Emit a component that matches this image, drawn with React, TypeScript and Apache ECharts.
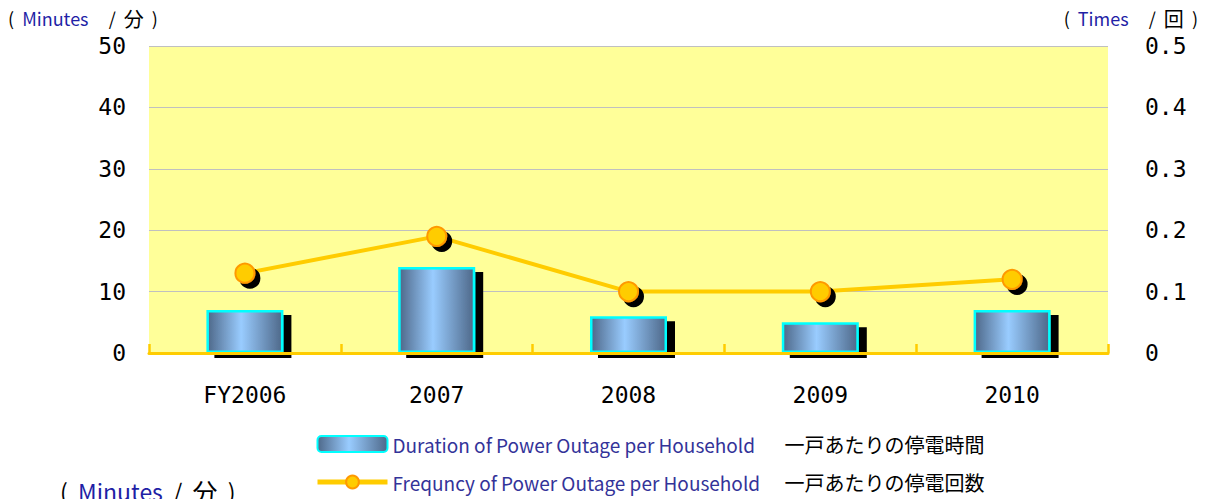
import React, { useEffect, useRef } from "react";
import * as echarts from "echarts";

const categories = ["FY2006", "2007", "2008", "2009", "2010"];
const durationMinutes = [7, 14, 6, 5, 7];
const frequencyTimes = [0.13, 0.19, 0.1, 0.1, 0.12];
const leftTicks = { min: 0, max: 50, interval: 10 };
const rightTicks = { min: 0, max: 0.5, interval: 0.1 };
const seriesNames = [
  "Duration of Power Outage per Household",
  "Frequncy of Power Outage per Household",
];
const seriesNamesJa: Record<string, string> = {
  "Duration of Power Outage per Household": "一戸あたりの停電時間",
  "Frequncy of Power Outage per Household": "一戸あたりの停電回数",
};

const FONT = "'Noto Sans CJK JP', 'Noto Sans', sans-serif";
const MONO = "'DejaVu Sans Mono', monospace";

export default function App() {
  const ref = useRef<HTMLDivElement>(null);
  useEffect(() => {
    document.body.style.margin = "0";
    const chart = echarts.init(ref.current!, null, { renderer: "svg" });
    const barGradient = new echarts.graphic.LinearGradient(0, 0, 1, 0, [
      { offset: 0, color: "#4e6889" },
      { offset: 0.45, color: "#99ccff" },
      { offset: 1, color: "#4e6889" },
    ]);
    const unitRich = (size: number) => ({
      b: { fill: "#1f1fa6", fontSize: size, fontFamily: FONT },
      c: { fill: "#000", fontSize: size + 2, fontFamily: FONT },
    });
    chart.setOption({
      animation: false,
      textStyle: { fontFamily: FONT },
      grid: {
        left: 149,
        right: 98,
        top: 46,
        bottom: 146,
        show: true,
        backgroundColor: "#ffff99",
        borderWidth: 0,
      },
      xAxis: {
        type: "category",
        data: categories,
        z: 5,
        axisLine: { lineStyle: { color: "#ffcc00", width: 3 } },
        axisTick: {
          show: true,
          interval: 0,
          inside: true,
          length: 9,
          lineStyle: { color: "#ffcc00", width: 2.5 },
        },
        axisLabel: { color: "#000", fontSize: 23, margin: 30, fontFamily: MONO },
      },
      yAxis: [
        {
          type: "value",
          ...leftTicks,
          axisLine: { show: false },
          axisTick: { show: false },
          splitLine: { lineStyle: { color: "#c0c0c0", width: 1 } },
          axisLabel: { color: "#000", fontSize: 23, margin: 23, fontFamily: MONO },
        },
        {
          type: "value",
          position: "right",
          ...rightTicks,
          axisLine: { show: false },
          axisTick: { show: false },
          splitLine: { show: false },
          axisLabel: {
            color: "#000",
            fontSize: 23,
            margin: 37,
            fontFamily: MONO,
            formatter: (v: number) => (v === 0 ? "0" : v.toFixed(1)),
          },
        },
      ],
      legend: {
        orient: "vertical",
        left: 310,
        top: 429,
        itemWidth: 70,
        itemHeight: 16,
        itemGap: 18,
        data: seriesNames,
        itemStyle: { shadowColor: "rgba(0,0,0,0)", shadowBlur: 0, shadowOffsetX: 0, shadowOffsetY: 0 },
        lineStyle: { width: 5, color: "#ffcc00", shadowColor: "rgba(0,0,0,0)" },
        formatter: (name: string) => `{en|${name}}{ja|${seriesNamesJa[name]}}`,
        textStyle: {
          rich: {
            en: { color: "#333399", fontSize: 19, width: 392, fontFamily: FONT, lineHeight: 28 },
            ja: { color: "#000", fontSize: 20, fontFamily: FONT, lineHeight: 28 },
          },
        },
      },
      graphic: [
        {
          type: "text",
          left: 8,
          top: 8,
          style: {
            text: "(  {b|Minutes}     /  {c|分}  )",
            fontSize: 18,
            fontFamily: FONT,
            fill: "#000",
            rich: unitRich(18),
          } as any,
        },
        {
          type: "text",
          right: 8,
          top: 8,
          style: {
            text: "(  {b|Times}     /  {c|回}  )",
            fontSize: 18,
            fontFamily: FONT,
            fill: "#000",
            rich: unitRich(18),
          } as any,
        },
        {
          type: "text",
          left: 60,
          top: 478,
          style: {
            text: "(  {b|Minutes}  /  {c|分}  )",
            fontSize: 23,
            fontFamily: FONT,
            fill: "#000",
            rich: unitRich(23),
          } as any,
        },
      ],
      series: [
        {
          name: seriesNames[0],
          type: "bar",
          data: durationMinutes,
          barWidth: 77,
          yAxisIndex: 0,
          z: 2,
          itemStyle: {
            color: barGradient,
            borderColor: "#00ffff",
            borderWidth: 2.5,
            shadowColor: "#000",
            shadowBlur: 0,
            shadowOffsetX: 8,
            shadowOffsetY: 5,
          },
        },
        {
          name: seriesNames[1],
          type: "line",
          data: frequencyTimes,
          yAxisIndex: 1,
          z: 6,
          symbol: "circle",
          symbolSize: 19,
          lineStyle: { color: "#ffcc00", width: 4 },
          itemStyle: {
            color: "#ffcc00",
            borderColor: "#ff9900",
            borderWidth: 2,
            shadowColor: "#000",
            shadowBlur: 0,
            shadowOffsetX: 5,
            shadowOffsetY: 5,
          },
        },
      ],
    });
    return () => chart.dispose();
  }, []);
  return <div ref={ref} style={{ width: 1206, height: 499 }} />;
}
